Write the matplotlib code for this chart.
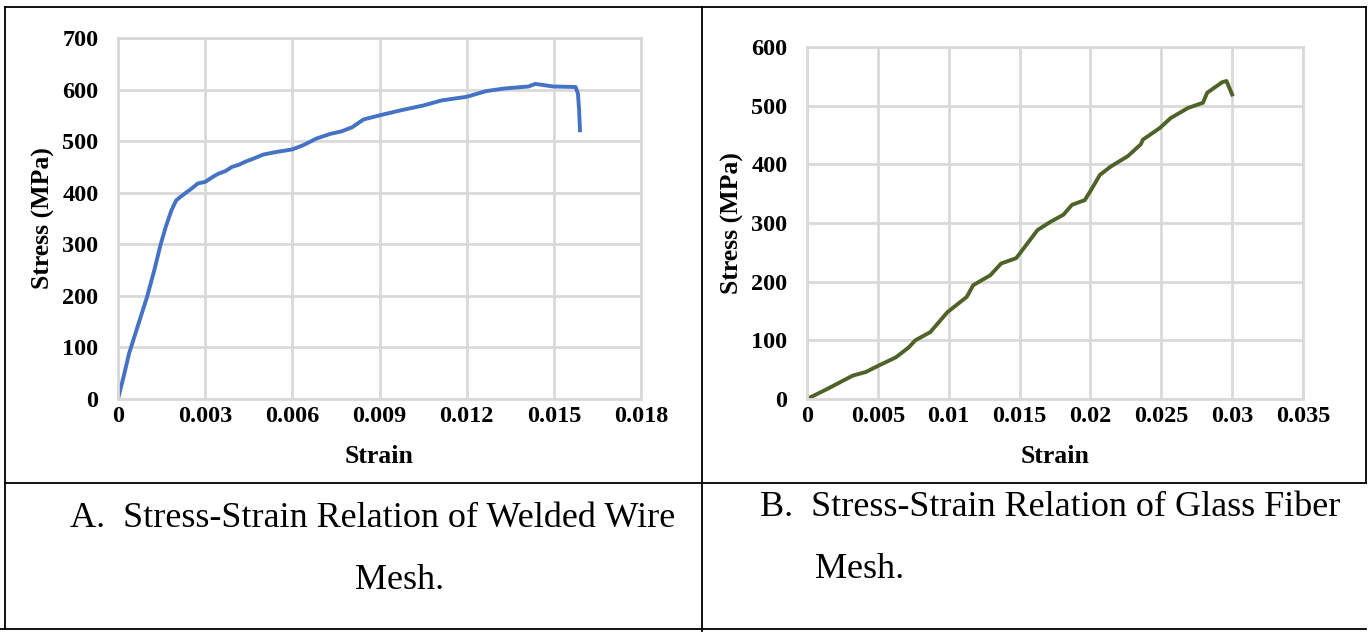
import numpy as np
import matplotlib
matplotlib.use("Agg")
import matplotlib.pyplot as plt
from matplotlib.lines import Line2D

# welded wire mesh (strain, MPa)
wire_strain = [0, 0.00020, 0.00038, 0.00070, 0.00100, 0.00125, 0.00146, 0.00165, 0.00184,
               0.00200, 0.00215, 0.00253, 0.00275, 0.00300, 0.00330, 0.00346, 0.00370,
               0.00392, 0.00415, 0.00438, 0.00470, 0.00500, 0.00545, 0.00600, 0.00637,
               0.00683, 0.00730, 0.00770, 0.00806, 0.00845, 0.00900, 0.00975, 0.01050,
               0.01114, 0.01200, 0.01267, 0.01329, 0.01413, 0.01436, 0.01498, 0.01575,
               0.01583, 0.01587, 0.01590]
wire_stress = [0, 45, 88, 145, 198, 250, 298, 335, 366,
               385, 392, 408, 418, 421, 432, 437, 442,
               450, 454, 460, 467, 474, 479, 484, 492,
               505, 514, 519, 527, 542, 550, 560, 569,
               579, 586, 597, 602, 606, 611, 606, 605,
               592, 560, 521]

# glass fiber mesh (strain, MPa)
glass_strain = [0, 0.00142, 0.00324, 0.00415, 0.00506, 0.00627, 0.00718, 0.00764, 0.00870,
                0.00991, 0.01127, 0.01173, 0.01294, 0.01370, 0.01476, 0.01627, 0.01718,
                0.01809, 0.01870, 0.01960, 0.02006, 0.02067, 0.02142, 0.02264, 0.02355,
                0.02370, 0.02490, 0.02567, 0.02688, 0.02794, 0.02824, 0.02930, 0.02960,
                0.03000]
glass_stress = [0, 17, 40, 46, 57, 71, 88, 100, 114,
                148, 174, 194, 211, 231, 240, 288, 302,
                314, 331, 339, 357, 382, 396, 414, 434,
                442, 462, 479, 496, 505, 522, 540, 542,
                519]

wire_xticks = [0, 0.003, 0.006, 0.009, 0.012, 0.015, 0.018]
wire_xlabels = ["0", "0.003", "0.006", "0.009", "0.012", "0.015", "0.018"]
wire_yticks = [0, 100, 200, 300, 400, 500, 600, 700]
glass_xticks = [0, 0.005, 0.01, 0.015, 0.02, 0.025, 0.03, 0.035]
glass_xlabels = ["0", "0.005", "0.01", "0.015", "0.02", "0.025", "0.03", "0.035"]
glass_yticks = [0, 100, 200, 300, 400, 500, 600]

caption_a = ["A.  Stress-Strain Relation of Welded Wire", "Mesh."]
caption_b = ["B.  Stress-Strain Relation of Glass Fiber", "Mesh."]

W, H = 1372, 640
serif = ["Liberation Serif", "DejaVu Serif"]
grid_col = "#d9d9d9"

fig = plt.figure(figsize=(W / 100, H / 100), dpi=100)


def px_box(x0, y0, x1, y1):
    return [x0 / W, 1 - y1 / H, (x1 - x0) / W, (y1 - y0) / H]


def style_axes(ax, xticks, xlabels, yticks):
    ax.set_xticks(xticks)
    ax.set_xticklabels(xlabels)
    ax.set_yticks(yticks)
    ax.set_xlim(xticks[0], xticks[-1])
    ax.set_ylim(yticks[0], yticks[-1])
    ax.grid(True, color=grid_col, linewidth=2)
    ax.set_axisbelow(True)
    for s in ax.spines.values():
        s.set_color(grid_col)
        s.set_linewidth(2)
    ax.tick_params(length=0, labelsize=17.5)
    ax.tick_params(axis="x", pad=5)
    ax.tick_params(axis="y", pad=14)
    for lab in ax.get_xticklabels() + ax.get_yticklabels():
        lab.set_fontfamily(serif)
        lab.set_fontweight("bold")
    ax.set_xlabel("Strain", fontsize=18.5, fontweight="bold", family=serif, labelpad=13)
    ax.set_ylabel("Stress (MPa)", fontsize=18.5, fontweight="bold", family=serif, labelpad=5)


ax1 = fig.add_axes(px_box(118, 38, 641, 399))
ax1.plot(wire_strain, wire_stress, color="#4472c4", linewidth=2.8, solid_joinstyle="round")
style_axes(ax1, wire_xticks, wire_xlabels, wire_yticks)

ax2 = fig.add_axes(px_box(807, 47, 1303, 399))
ax2.plot(glass_strain, glass_stress, color="#4f6228", linewidth=2.8, solid_joinstyle="round")
style_axes(ax2, glass_xticks, glass_xlabels, glass_yticks)

# table borders
def hline(y, x0, x1):
    fig.add_artist(Line2D([x0 / W, x1 / W], [1 - y / H, 1 - y / H], color="black", linewidth=1.3))


def vline(x, y0, y1):
    fig.add_artist(Line2D([x / W, x / W], [1 - y0 / H, 1 - y1 / H], color="black", linewidth=1.3))


hline(6.5, 5, 1366)
hline(483, 5, 1366)
hline(629, 0, 1366)
vline(5, 6.5, 629)
vline(701.5, 6.5, 631)
vline(1366, 6.5, 483)

# captions
fig.text(70 / W, 1 - 527 / H, caption_a[0], fontsize=26, family=serif, va="baseline")
fig.text(400 / W, 1 - 589 / H, caption_a[1], fontsize=26, family=serif, va="baseline", ha="center")
fig.text(760 / W, 1 - 516 / H, caption_b[0], fontsize=26, family=serif, va="baseline")
fig.text(815 / W, 1 - 578 / H, caption_b[1], fontsize=26, family=serif, va="baseline")

fig.savefig("out.png", dpi=100)
